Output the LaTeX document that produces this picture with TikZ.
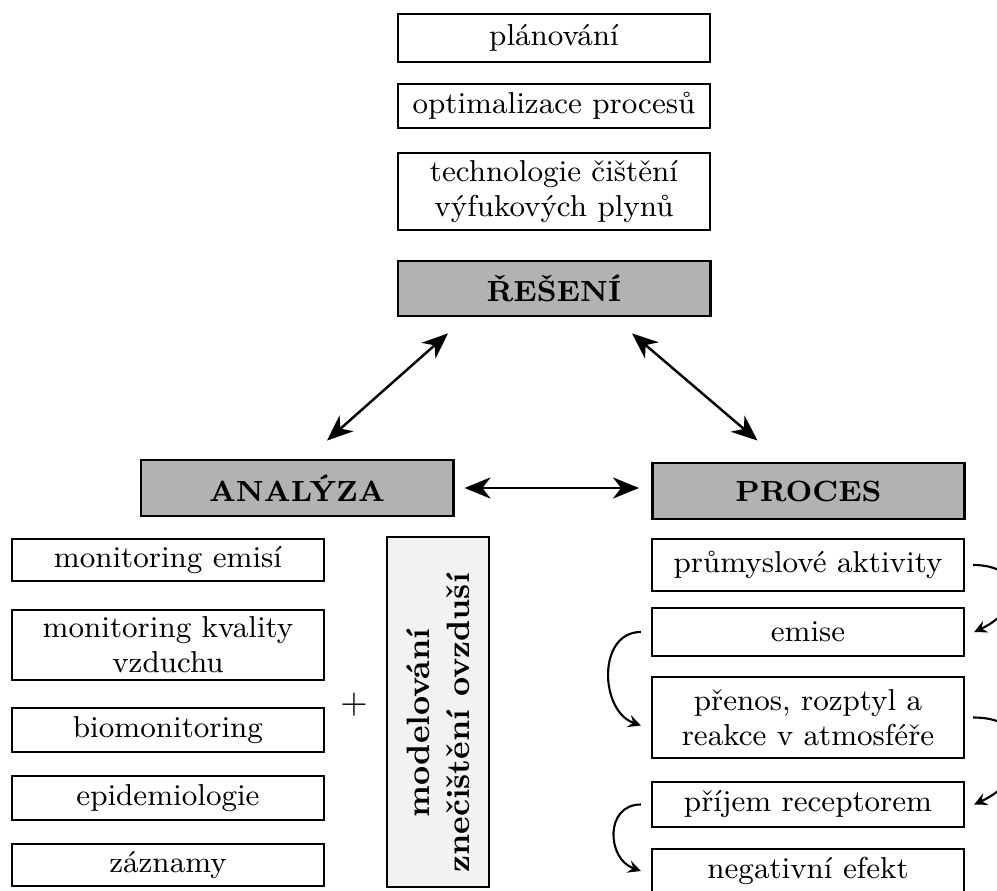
\documentclass[tikz,border=0pt]{standalone}
\usepackage{fontspec}
\usetikzlibrary{arrows.meta}
\begin{document}
\begin{tikzpicture}[>=stealth, x=0.01cm, y=-0.01cm,
		box/.style={draw, semithick, rectangle, minimum width=3.12cm, minimum height=0.44cm,
			align=center, inner ysep=2pt, font=\fontsize{8.6}{10}\selectfont},
		headbox/.style={draw, thick, rectangle, fill=gray!60, minimum width=3.12cm,
			minimum height=0.56cm, font=\fontsize{8.3}{10}\selectfont\bfseries},
		link/.style={{Stealth[length=7.4pt,width=6pt,inset=2.3pt]}-{Stealth[length=7.4pt,width=6pt,inset=2.3pt]},
			line width=0.7pt},
		flow/.style={->, semithick}]
				\useasboundingbox (0,0) rectangle (997,891);
				% solutions
				\node[box, minimum height=0.48cm] (plan) at (554,38) {plánování};
				\node[box] (optim) at (554,106) {optimalizace procesů};
				\node[box] (tech) at (554,191.5) {technologie čištění\\výfukových plynů};
				\node[headbox, minimum height=0.55cm] (reseni) at (554,288.5) {ŘEŠENÍ};
				% analysis
				\node[headbox] (analyza) at (297,488) {ANALÝZA};
				\node[box, minimum height=0.42cm] (monem) at (168,560) {monitoring emisí};
				\node[box] (monkv) at (168,645) {monitoring kvality\\vzduchu};
				\node[box] (biomon) at (168,730) {biomonitoring};
				\node[box] (epid) at (168,798) {epidemiologie};
				\node[box, minimum height=0.40cm] (zazn) at (168,865) {záznamy};
				\node (plus) at (354,705) {$+$};
				\node[draw, semithick, rectangle, fill=gray!10,
				minimum width=1.02cm, minimum height=3.49cm] (model) at (438,712) {};
				\node[rotate=90, align=center, font=\fontsize{9.2}{11.4}\selectfont\bfseries]
				(modeltxt) at (438,723) {modelování\\znečištění ovzduší};
				% process
				\node[headbox] (proces) at (808.5,491) {PROCES};
				\node[box, minimum height=0.52cm] (prum) at (808,565) {průmyslové aktivity};
				\node[box, minimum height=0.48cm] (emise) at (808,632) {emise};
				\node[box, minimum height=0.81cm] (prenos) at (808,717.5) {přenos, rozptyl a\\reakce v atmosféře};
				\node[box, minimum height=0.45cm] (prijem) at (808,804.5) {příjem receptorem};
				\node[box] (negef) at (808,871) {negativní efekt};
				% links
				\draw[link] ([shift={(30,-18)}]analyza.north) -- ([shift={(-106,16)}]reseni.south);
				\draw[link] ([shift={(78,16)}]reseni.south) -- ([shift={(-51,-21)}]proces.north);
				\draw[link] ([xshift=0.1cm]analyza.east) -- ([xshift=-0.12cm]analyza.east -| proces.west);
				\draw[flow] ([xshift=0.08cm]prum.east) to[out=0, in=25, looseness=2]
				([xshift=0.09cm]emise.east);
				\draw[flow] ([xshift=0.08cm]prenos.east) to[out=0, in=25, looseness=1.9]
				([xshift=0.09cm]prijem.east);
				\draw[flow] ([xshift=-0.1cm]emise.west) to[out=180, in=160, looseness=1.2]
				([xshift=-0.1cm, yshift=-0.08cm]prenos.west);
				\draw[flow] ([xshift=-0.1cm]prijem.west) to[out=180, in=160, looseness=1.4]
				([xshift=-0.1cm]negef.west);
			\end{tikzpicture}
\end{document}
